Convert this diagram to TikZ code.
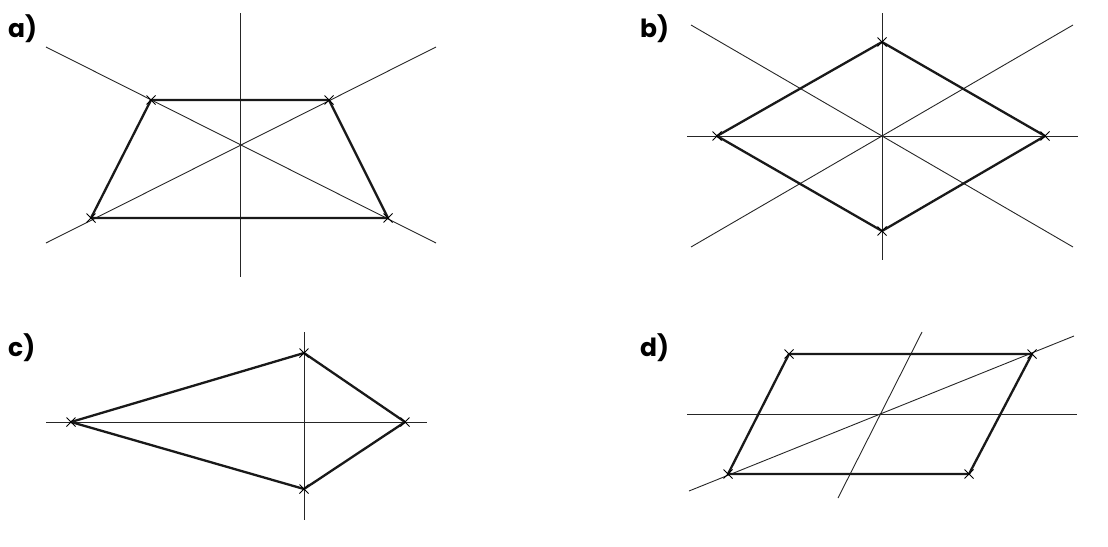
\documentclass[tikz,border=0pt]{standalone}
\usepackage{fontspec}
\newfontfamily\labfont{Poppins}
\begin{document}
\begin{tikzpicture}[x=1pt,y=-1pt,
  thinline/.style={line width=0.9pt,black!85},
  edge/.style={line width=2.3pt,black!90,line join=round,line cap=round},
  crossmark/.style={line width=0.8pt,black},
  lab/.style={anchor=base west,inner sep=0pt,font=\labfont\bfseries\fontsize{25}{25}\selectfont}]
\useasboundingbox (0,0) rectangle (1108,546);
% ---------- a) ----------
\node[lab] (la) at (8,37) {a)};
\coordinate (aUL) at (151,100);
\coordinate (aUR) at (329,100);
\coordinate (aLL) at (91,218);
\coordinate (aLR) at (388,218);
\coordinate (aT) at (240,13);
\coordinate (aB) at (240,277);
\coordinate (aD1s) at (46,47);
\coordinate (aD1e) at (436,243);
\coordinate (aD2s) at (46,243);
\coordinate (aD2e) at (436,47);
\draw[thinline] (aT) -- (aB);
\draw[thinline] (aD1s) -- (aD1e);
\draw[thinline] (aD2s) -- (aD2e);
\draw[edge] (aUL) -- (aUR) -- (aLR) -- (aLL) -- cycle;
% ---------- b) ----------
\node[lab] (lb) at (640,37) {b)};
\coordinate (bT) at (882,42);
\coordinate (bB) at (882,231);
\coordinate (bL) at (717,136);
\coordinate (bR) at (1045,136);
\coordinate (bVs) at (882,13);
\coordinate (bVe) at (882,260);
\coordinate (bHs) at (687,136);
\coordinate (bHe) at (1078,136);
\coordinate (bD1s) at (691,25);
\coordinate (bD1e) at (1073,247);
\coordinate (bD2s) at (691,247);
\coordinate (bD2e) at (1073,25);
\draw[thinline] (bVs) -- (bVe);
\draw[thinline] (bHs) -- (bHe);
\draw[thinline] (bD1s) -- (bD1e);
\draw[thinline] (bD2s) -- (bD2e);
\draw[edge] (bT) -- (bR) -- (bB) -- (bL) -- cycle;
% ---------- c) ----------
\node[lab] (lc) at (8,356) {c)};
\coordinate (cL) at (71,422);
\coordinate (cT) at (304,353);
\coordinate (cR) at (405,422);
\coordinate (cB) at (304,489);
\coordinate (cHs) at (46,422);
\coordinate (cHe) at (427,422);
\coordinate (cVs) at (304,332);
\coordinate (cVe) at (304,520);
\draw[thinline] (cHs) -- (cHe);
\draw[thinline] (cVs) -- (cVe);
\draw[edge] (cL) -- (cT) -- (cR) -- (cB) -- cycle;
% ---------- d) ----------
\node[lab] (ld) at (640,356) {d)};
\coordinate (dUL) at (789,354);
\coordinate (dUR) at (1032,354);
\coordinate (dLL) at (728,474);
\coordinate (dLR) at (969,474);
\coordinate (dHs) at (687,414);
\coordinate (dHe) at (1077,414);
\coordinate (dDs) at (689,491);
\coordinate (dDe) at (1074,336);
\coordinate (dPs) at (838,498);
\coordinate (dPe) at (922,332);
\draw[thinline] (dHs) -- (dHe);
\draw[thinline] (dDs) -- (dDe);
\draw[thinline] (dPs) -- (dPe);
\draw[edge] (dUL) -- (dUR) -- (dLR) -- (dLL) -- cycle;
% ---------- crosses ----------
\foreach \p in {aUL,aUR,aLL,aLR,bT,bB,bL,bR,cL,cT,cR,cB,dUL,dUR,dLL,dLR}{
  \draw[crossmark] ([shift={(-4.5,-4.5)}]\p) -- ([shift={(4.5,4.5)}]\p);
  \draw[crossmark] ([shift={(-4.5,4.5)}]\p) -- ([shift={(4.5,-4.5)}]\p);
}
\end{tikzpicture}
\end{document}
